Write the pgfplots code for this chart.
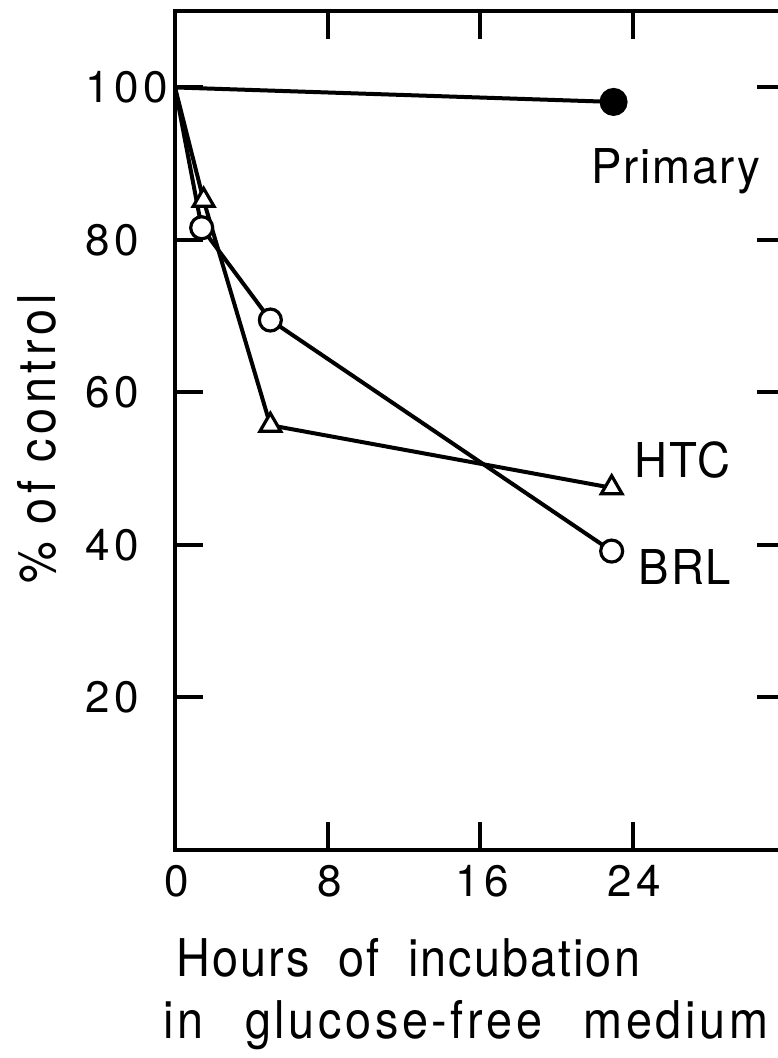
\documentclass[border=0pt]{standalone}
\usepackage{pgfplots}
\pgfplotsset{compat=1.18}
\usepackage{fontspec}
\setmainfont{TeX Gyre Heros}[FakeStretch=0.9]
\newfontfamily\tickfont{TeX Gyre Heros}[LetterSpace=10]
\newfontfamily\lblfont{TeX Gyre Heros}[FakeStretch=0.9,LetterSpace=9]
\newfontfamily\lblfonta{TeX Gyre Heros}[FakeStretch=0.9,LetterSpace=4]
\newfontfamily\lblfontb{TeX Gyre Heros}[FakeStretch=0.9,LetterSpace=7]
\newfontfamily\serfont{TeX Gyre Heros}[FakeStretch=0.95,LetterSpace=4]
\begin{document}
\begin{tikzpicture}[x=1pt,y=1pt]
\begin{axis}[
    at={(0,0)}, anchor=south west,
    scale only axis,
    width=305.1pt, height=419.4pt,
    xmin=0, xmax=32, ymin=0, ymax=110,
    xtick={0,8,16,24}, xticklabels={0,8,16,24},
    ytick={20,40,60,80,100},
    tick align=inside,
    major tick length=14pt,
    tick style={line width=2pt, black},
    axis line style={line width=2pt},
    /pgf/number format/assume math mode=true,
    ticklabel style={font=\tickfont\fontsize{22}{24}\selectfont},
    xticklabel style={yshift=-4pt, xshift=1pt},
    yticklabel style={anchor=west, inner xsep=0pt, xshift=-45pt},
    ylabel={\% of control},
    ylabel style={font=\lblfont\fontsize{26}{30}\selectfont, at={(axis description cs:0,0.49)}, anchor=south, yshift=55.5pt},
    xlabel={\lblfonta\hspace{6.5pt}Hours\hspace{0.55em}of\hspace{0.55em}incubation\\\lblfontb in\hspace{0.8em}glucose-free\hspace{0.8em}medium},
    xlabel style={font=\lblfont\fontsize{26}{31}\selectfont, align=left, at={(axis description cs:0,0)}, anchor=north west, xshift=-6pt, yshift=-44pt, inner sep=0pt},
    clip=false,
]
\addplot[black, line width=2pt, mark=*, mark size=6pt, mark indices={2}] coordinates {(0,100) (23,98.1)};
\addplot[black, line width=2pt, mark=triangle*, mark options={fill=white, line width=1.6pt}, mark size=6pt, mark indices={2,3,4}] coordinates {(0,100) (1.5,85.2) (5,55.7) (22.9,47.5)};
\addplot[black, line width=2pt, mark=*, mark options={fill=white, line width=1.6pt}, mark size=5.5pt, mark indices={2,3,4}] coordinates {(0,100) (1.4,81.6) (5,69.5) (22.9,39.2)};
\node[anchor=base west, inner sep=0pt, font=\serfont\fontsize{24}{28}\selectfont] at (axis cs:21.8,87.4) {Primary};
\node[anchor=base west, inner sep=0pt, font=\serfont\fontsize{24}{28}\selectfont] at (axis cs:24.1,48.8) {HTC};
\node[anchor=base west, inner sep=0pt, font=\serfont\fontsize{24}{28}\selectfont] at (axis cs:24.3,34.8) {BRL};
\end{axis}
\pgfresetboundingbox
\useasboundingbox (-87.5pt,-104pt) rectangle (301pt,425pt);
\end{tikzpicture}
\end{document}
